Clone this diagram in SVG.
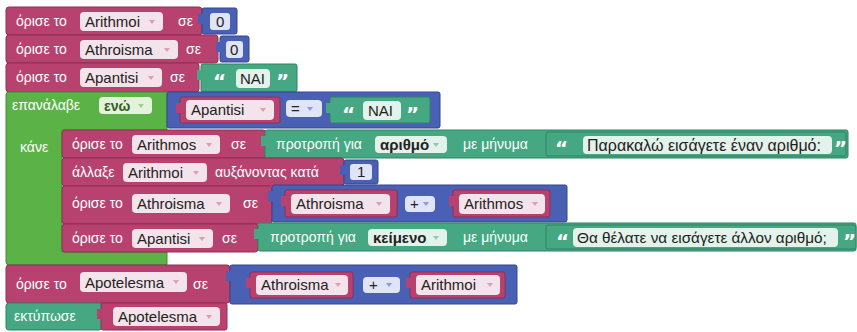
<svg xmlns="http://www.w3.org/2000/svg" width="857" height="332" viewBox="0 0 857 332">
<style>
.var{fill:#b8426f;stroke:#8f2f55;stroke-width:1}
.loop{fill:#5bb347;stroke:#3f8f33;stroke-width:1}
.math{fill:#4a60b5;stroke:#33478f;stroke-width:1}
.txt{fill:#45a883;stroke:#2e8463;stroke-width:1}
.pv{fill:#f3e3ea}
.pg{fill:#e3f2ea}
.pb{fill:#dfe4f6}
.pl{fill:#e3f2da}
text{font-family:"Liberation Sans","DejaVu Sans",sans-serif}
.w{fill:#fff;font-size:14px}
.f{fill:#222;font-size:15px}
text.q{fill:#fff;font-family:"DejaVu Sans",sans-serif;font-size:20px;font-weight:bold}
.tv{fill:#e39ab7}
.tg{fill:#8fcaae}
.tb{fill:#8e9bd9}
.tl{fill:#9fd08f}
</style>
<rect width="857" height="332" fill="#fff"/>

<g id="set-arithmoi">
<rect class="var" x="6" y="7" width="196" height="28" rx="3"/>
<text class="w" x="16" y="26">όρισε το</text>
<rect class="pv" x="80" y="12" width="83" height="19" rx="4"/>
<text class="f" x="85" y="27">Arithmoi</text>
<polygon class="tv" points="149,20 155,20 152,24"/>
<text class="w" x="178" y="26">σε</text>
<rect class="math" x="202" y="8" width="35" height="26" rx="2"/>
<rect class="math" x="198" y="14" width="5" height="10" style="stroke:none"/>
<rect class="pb" x="210" y="13" width="20" height="17" rx="3"/>
<text class="f" x="216" y="27">0</text>
</g>

<g id="set-athroisma">
<rect class="var" x="6" y="35" width="212" height="28" rx="3"/>
<text class="w" x="16" y="54">όρισε το</text>
<rect class="pv" x="80" y="40" width="98" height="19" rx="4"/>
<text class="f" x="85" y="55">Athroisma</text>
<polygon class="tv" points="164,48 170,48 167,52"/>
<text class="w" x="186" y="54">σε</text>
<rect class="math" x="220" y="36" width="29" height="26" rx="2"/>
<rect class="math" x="216" y="42" width="5" height="10" style="stroke:none"/>
<rect class="pb" x="226" y="41" width="17" height="17" rx="3"/>
<text class="f" x="230" y="55">0</text>
</g>

<g id="set-apantisi">
<rect class="var" x="6" y="63" width="193" height="29" rx="3"/>
<text class="w" x="16" y="82">όρισε το</text>
<rect class="pv" x="80" y="68" width="82" height="19" rx="4"/>
<text class="f" x="85" y="83">Apantisi</text>
<polygon class="tv" points="148,76 154,76 151,80"/>
<text class="w" x="170" y="82">σε</text>
<rect class="txt" x="201" y="64" width="96" height="28" rx="2"/>
<rect class="txt" x="197" y="70" width="5" height="10" style="stroke:none"/>
<text class="q" x="213" y="88">“</text>
<rect class="pg" x="236" y="69" width="34" height="19" rx="4"/>
<text class="f" x="240" y="84">NAI</text>
<text class="q" x="276" y="88">”</text>
</g>

<g id="repeat-while">
<path class="loop" d="M9,92 H167 V130 H62 V252 H167 V265 H9 Q6,265 6,262 V95 Q6,92 9,92 Z"/>
<text class="w" x="12" y="110">επανάλαβε</text>
<rect class="pl" x="99" y="97" width="53" height="17" rx="4"/>
<text x="104" y="111" style="fill:#2d5f22;font-size:14px;font-weight:bold">ενώ</text>
<polygon class="tl" points="138,104 144,104 141,108"/>
<text class="w" x="20" y="152">κάνε</text>
</g>

<g id="compare">
<rect class="math" x="167" y="92" width="273" height="36" rx="2"/>
<rect class="var" x="180" y="97" width="100" height="26" rx="2"/>
<rect class="var" x="176" y="103" width="5" height="10" style="stroke:none"/>
<rect class="pv" x="186" y="100" width="88" height="20" rx="4"/>
<text class="f" x="191" y="115">Apantisi</text>
<polygon class="tv" points="260,108 266,108 263,112"/>
<rect class="pb" x="286" y="100" width="36" height="17" rx="4"/>
<text class="f" x="291" y="114">=</text>
<polygon class="tb" points="307,107 313,107 310,111"/>
<rect class="txt" x="330" y="97" width="100" height="26" rx="2"/>
<rect class="txt" x="326" y="103" width="5" height="10" style="stroke:none"/>
<text class="q" x="342" y="121">“</text>
<rect class="pg" x="363" y="101" width="38" height="19" rx="4"/>
<text class="f" x="368" y="116">NAI</text>
<text class="q" x="406" y="121">”</text>
</g>

<g id="set-arithmos">
<rect class="var" x="62" y="130" width="204" height="28" rx="3"/>
<text class="w" x="72" y="149">όρισε το</text>
<rect class="pv" x="132" y="135" width="88" height="19" rx="4"/>
<text class="f" x="137" y="150">Arithmos</text>
<polygon class="tv" points="206,143 212,143 209,147"/>
<text class="w" x="231" y="149">σε</text>
<rect class="txt" x="265" y="130" width="583" height="28" rx="2"/>
<rect class="txt" x="261" y="136" width="5" height="10" style="stroke:none"/>
<text class="w" x="276" y="149">προτροπή για</text>
<rect class="pg" x="375" y="136" width="72" height="17" rx="4"/>
<text class="f" x="380" y="150" style="font-weight:bold">αριθμό</text>
<polygon class="tg" points="433,143 439,143 436,147"/>
<text class="w" x="463" y="149">με μήνυμα</text>
<rect class="txt" x="546" y="132" width="300" height="24" rx="2"/>
<text class="q" x="555" y="155">“</text>
<rect class="pg" x="583" y="136" width="249" height="18" rx="4"/>
<text class="f" x="587" y="151" style="font-size:16px">Παρακαλώ εισάγετε έναν αριθμό:</text>
<text class="q" x="834" y="155">”</text>
</g>

<g id="change-arithmoi">
<rect class="var" x="62" y="158" width="282" height="28" rx="3"/>
<text class="w" x="72" y="177">άλλαξε</text>
<rect class="pv" x="123" y="163" width="84" height="19" rx="4"/>
<text class="f" x="128" y="178">Arithmoi</text>
<polygon class="tv" points="193,171 199,171 196,175"/>
<text class="w" x="215" y="177">αυξάνοντας κατά</text>
<rect class="math" x="344" y="160" width="34" height="24" rx="2"/>
<rect class="math" x="340" y="165" width="5" height="10" style="stroke:none"/>
<rect class="pb" x="350" y="164" width="22" height="16" rx="3"/>
<text class="f" x="357" y="177">1</text>
</g>

<g id="set-athroisma-sum">
<rect class="var" x="62" y="186" width="210" height="38" rx="3"/>
<text class="w" x="72" y="208">όρισε το</text>
<rect class="pv" x="132" y="194" width="98" height="19" rx="4"/>
<text class="f" x="137" y="209">Athroisma</text>
<polygon class="tv" points="216,202 222,202 219,206"/>
<text class="w" x="243" y="208">σε</text>
<rect class="math" x="272" y="185" width="295" height="37" rx="2"/>
<rect class="math" x="268" y="191" width="5" height="10" style="stroke:none"/>
<rect class="var" x="285" y="190" width="112" height="27" rx="2"/>
<rect class="var" x="281" y="196" width="5" height="10" style="stroke:none"/>
<rect class="pv" x="291" y="194" width="99" height="20" rx="4"/>
<text class="f" x="296" y="209">Athroisma</text>
<polygon class="tv" points="376,202 382,202 379,206"/>
<rect class="pb" x="405" y="196" width="30" height="16" rx="4"/>
<text class="f" x="410" y="209">+</text>
<polygon class="tb" points="423,202 429,202 426,206"/>
<rect class="var" x="453" y="190" width="97" height="27" rx="2"/>
<rect class="var" x="449" y="196" width="5" height="10" style="stroke:none"/>
<rect class="pv" x="459" y="194" width="86" height="20" rx="4"/>
<text class="f" x="464" y="209">Arithmos</text>
<polygon class="tv" points="532,202 538,202 535,206"/>
</g>

<g id="set-apantisi-prompt">
<rect class="var" x="62" y="224" width="196" height="28" rx="3"/>
<text class="w" x="72" y="243">όρισε το</text>
<rect class="pv" x="132" y="229" width="81" height="19" rx="4"/>
<text class="f" x="137" y="244">Apantisi</text>
<polygon class="tv" points="199,237 205,237 202,241"/>
<text class="w" x="222" y="243">σε</text>
<rect class="txt" x="258" y="223" width="598" height="28" rx="2"/>
<rect class="txt" x="254" y="229" width="5" height="10" style="stroke:none"/>
<text class="w" x="270" y="242">προτροπή για</text>
<rect class="pg" x="368" y="229" width="79" height="17" rx="4"/>
<text class="f" x="373" y="243" style="font-weight:bold">κείμενο</text>
<polygon class="tg" points="433,236 439,236 436,240"/>
<text class="w" x="463" y="242">με μήνυμα</text>
<rect class="txt" x="546" y="225" width="310" height="24" rx="2"/>
<text class="q" x="556" y="248">“</text>
<rect class="pg" x="573" y="228" width="265" height="19" rx="4"/>
<text class="f" x="577" y="243" style="font-size:15.3px">Θα θέλατε να εισάγετε άλλον αριθμό;</text>
<text class="q" x="843" y="248">”</text>
</g>

<g id="set-apotelesma">
<rect class="var" x="6" y="265" width="224" height="38" rx="3"/>
<text class="w" x="16" y="289">όρισε το</text>
<rect class="pv" x="80" y="272" width="107" height="20" rx="4"/>
<text class="f" x="85" y="288">Apotelesma</text>
<polygon class="tv" points="173,280 179,280 176,284"/>
<text class="w" x="193" y="289">σε</text>
<rect class="math" x="230" y="265" width="287" height="39" rx="2"/>
<rect class="math" x="226" y="271" width="5" height="10" style="stroke:none"/>
<rect class="var" x="250" y="272" width="103" height="26" rx="2"/>
<rect class="var" x="246" y="278" width="5" height="10" style="stroke:none"/>
<rect class="pv" x="256" y="275" width="92" height="20" rx="4"/>
<text class="f" x="261" y="290">Athroisma</text>
<polygon class="tv" points="335,283 341,283 338,287"/>
<rect class="pb" x="363" y="277" width="37" height="16" rx="4"/>
<text class="f" x="369" y="290">+</text>
<polygon class="tb" points="386,283 392,283 389,287"/>
<rect class="var" x="410" y="272" width="95" height="26" rx="2"/>
<rect class="var" x="406" y="278" width="5" height="10" style="stroke:none"/>
<rect class="pv" x="416" y="275" width="84" height="20" rx="4"/>
<text class="f" x="421" y="290">Arithmoi</text>
<polygon class="tv" points="487,283 493,283 490,287"/>
</g>

<g id="print-apotelesma">
<rect class="txt" x="6" y="303" width="96" height="27" rx="3"/>
<text class="w" x="14" y="321">εκτύπωσε</text>
<rect class="var" x="101" y="303" width="126" height="27" rx="2"/>
<rect class="var" x="97" y="309" width="5" height="10" style="stroke:none"/>
<rect class="pv" x="113" y="307" width="107" height="19" rx="4"/>
<text class="f" x="118" y="322">Apotelesma</text>
<polygon class="tv" points="206,315 212,315 209,319"/>
</g>
</svg>
